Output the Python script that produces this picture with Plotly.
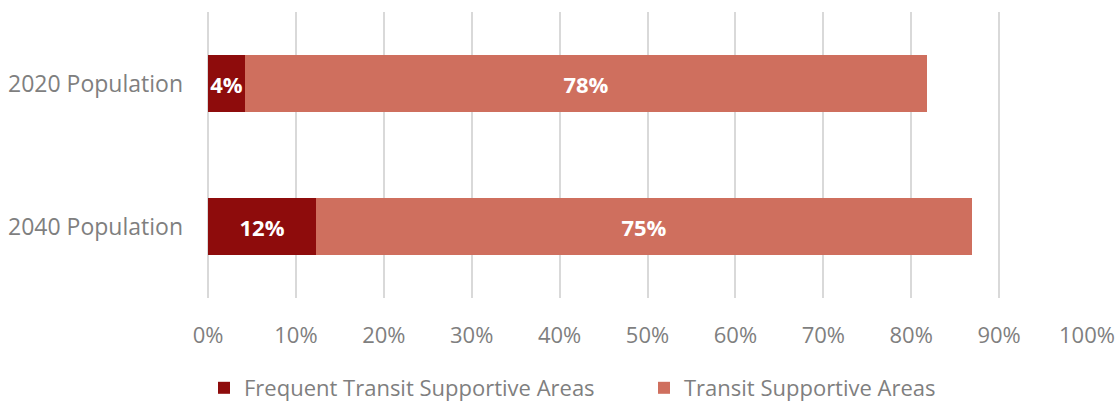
import plotly.graph_objects as go

categories = ["2020 Population", "2040 Population"]
frequent = [0.042, 0.123]
supportive = [0.776, 0.746]
series_names = ["Frequent Transit Supportive Areas", "Transit Supportive Areas"]
colors = ["#8E0C0C", "#CF6F5E"]
tick_vals = [i / 10 for i in range(11)]
tick_text = [f"{i*10}%" for i in range(11)]

FONT = "Open Sans, Noto Sans, sans-serif"

fig = go.Figure()
for name, vals, col in zip(series_names, [frequent, supportive], colors):
    fig.add_trace(go.Bar(
        y=categories, x=vals, name=name, orientation="h",
        marker=dict(color=col, line=dict(width=0)),
        texttemplate="<b>%{x:.0%}</b>", textposition="inside",
        insidetextanchor="middle", textangle=0, constraintext="none",
        textfont=dict(color="white", size=22, family=FONT),
        cliponaxis=False,
    ))

fig.update_layout(
    barmode="stack",
    bargap=0.6,
    width=1120, height=407,
    margin=dict(l=208, r=33, t=12, b=109, autoexpand=False),
    paper_bgcolor="white", plot_bgcolor="white",
    font=dict(family=FONT, color="#7F7F7F"),
    uniformtext=dict(minsize=8, mode="show"),
    legend=dict(orientation="h", xref="container", x=204 / 1120, xanchor="left",
                yref="container", y=(407 - 388) / 407, yanchor="middle",
                font=dict(size=22, color="#7F7F7F"), traceorder="normal",
                itemwidth=30, entrywidth=395, entrywidthmode="pixels"),
    xaxis=dict(range=[0, 1], tickvals=tick_vals, ticktext=tick_text,
               showgrid=True, gridcolor="#D9D9D9", gridwidth=2,
               zeroline=True, zerolinecolor="#D9D9D9", zerolinewidth=2,
               showline=False, tickfont=dict(size=22, color="#7F7F7F"),
               ticklabelstandoff=22, automargin=False, fixedrange=True),
    yaxis=dict(autorange="reversed", showgrid=False, showline=False,
               tickfont=dict(size=23, color="#7F7F7F"), ticklabelstandoff=24,
               automargin=False, fixedrange=True),
)

fig.write_html("out.html", config={"displayModeBar": False},
               post_script="document.body.style.margin='0';document.body.style.overflow='hidden';")
